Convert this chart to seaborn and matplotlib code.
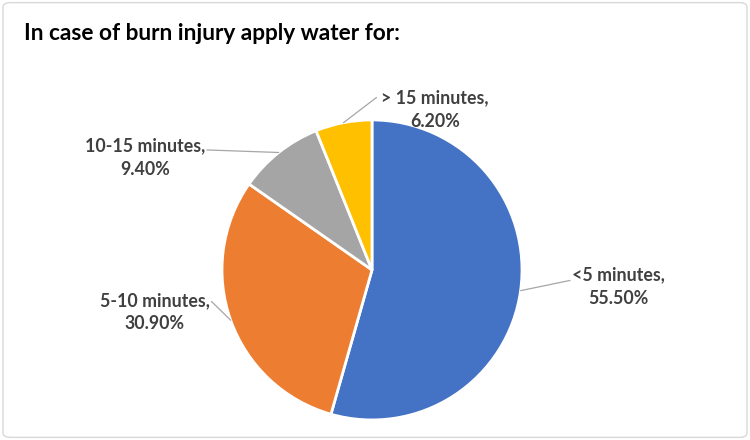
import numpy as np
import matplotlib
matplotlib.use("Agg")
import matplotlib.pyplot as plt
import seaborn as sns
from matplotlib.patches import FancyBboxPatch

# === Data ===
categories = ['<5 minutes', '5-10 minutes', '10-15 minutes', '> 15 minutes']
percentages = [55.5, 30.9, 9.4, 6.2]
colors = ['#4472C4', '#ED7D31', '#A5A5A5', '#FFC000']

# label anchor positions (in pie axes units) and leader line end points
label_pos = [(1.64, -0.11), (-1.45, -0.28), (-1.51, 0.75), (0.42, 1.07)]
line_end = [(1.32, -0.07), (-1.07, -0.21), (-1.10, 0.80), (0.03, 1.15)]

sns.set_theme(style='white')
plt.rcParams['font.family'] = ['Lato', 'DejaVu Sans']

fig = plt.figure(figsize=(7.5, 4.4), dpi=100)
ax = fig.add_axes([0.296, 0.0455, 0.4, 0.682])

wedges, _ = ax.pie(percentages, colors=colors, startangle=90, counterclock=False,
                   wedgeprops=dict(edgecolor='white', linewidth=2))
ax.set_xlim(-1, 1)
ax.set_ylim(-1, 1)
ax.set_aspect('equal')

for w, cat, pct, pos, end in zip(wedges, categories, percentages, label_pos, line_end):
    mid = np.deg2rad((w.theta1 + w.theta2) / 2)
    x0, y0 = np.cos(mid), np.sin(mid)
    ax.plot([x0, end[0]], [y0, end[1]], color='#A6A6A6', lw=0.9, clip_on=False)
    ax.text(pos[0], pos[1], f'{cat},\n{pct:.2f}%', ha='center', va='center',
            fontsize=12.8, fontweight='bold', color='#404040', linespacing=1.45,
            clip_on=False)

fig.text(0.032, 0.925, 'In case of burn injury apply water for:', fontsize=16.3,
         fontweight='bold', color='black', ha='left', va='center')

border = FancyBboxPatch((0.004, 0.006), 0.992, 0.988, boxstyle='round,pad=0,rounding_size=0.01',
                        transform=fig.transFigure, fill=False, edgecolor='#D9D9D9', lw=1)
fig.patches.append(border)

fig.savefig('out.png', dpi=100)
